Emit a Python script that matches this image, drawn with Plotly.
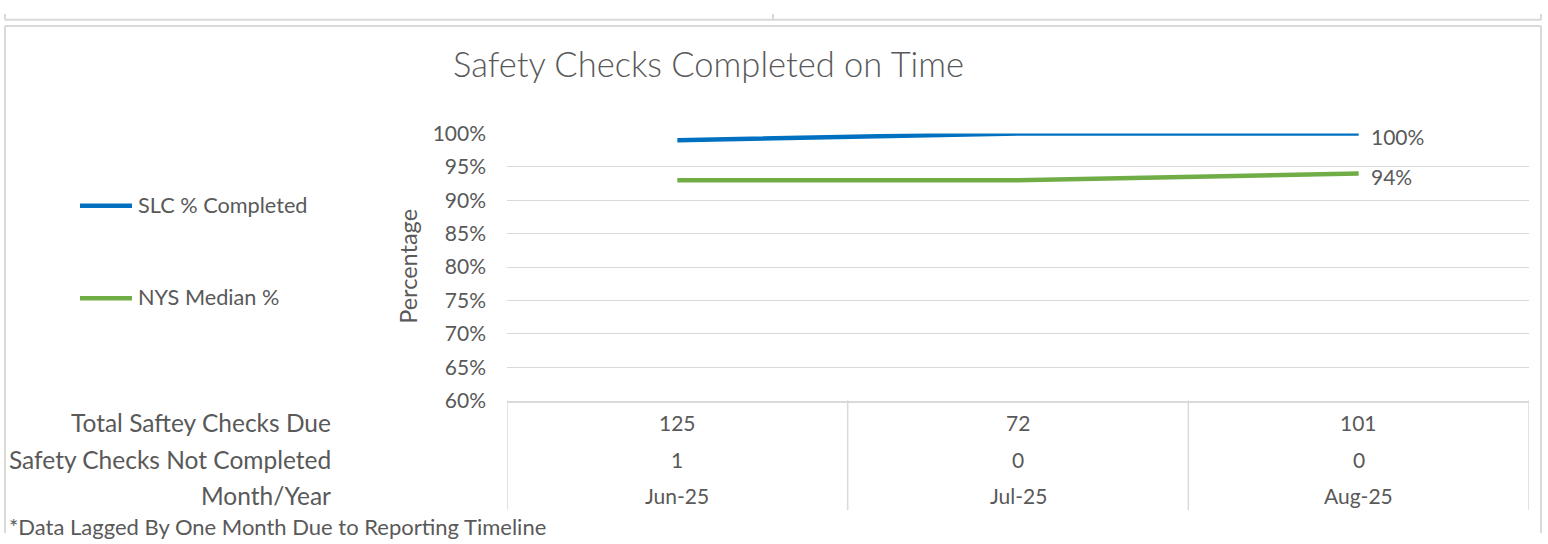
import plotly.graph_objects as go

W, H = 1548, 544

months = ["Jun-25", "Jul-25", "Aug-25"]
slc_pct = [99, 100, 100]
nys_median_pct = [93, 93, 94]
total_due = [125, 72, 101]
not_completed = [1, 0, 0]
y_ticks = [60, 65, 70, 75, 80, 85, 90, 95, 100]
row_labels = ["Total Saftey Checks Due", "Safety Checks Not Completed", "Month/Year"]
series_names = ["SLC % Completed", "NYS Median %"]
chart_title = "Safety Checks Completed on Time"
footnote = "*Data Lagged By One Month Due to Reporting Timeline"

BLUE = "#0070C0"
GREEN = "#70AD47"
TXT = "#595959"
GRID = "#D9D9D9"
FONT = "Lato"
FS = 21


def px(x):
    return x / W


def py(y):
    return 1 - y / H


fig = go.Figure()
fig.add_trace(go.Scatter(x=months, y=slc_pct, mode="lines", name=series_names[0],
                         line=dict(color=BLUE, width=4.5), showlegend=False))
fig.add_trace(go.Scatter(x=months, y=nys_median_pct, mode="lines", name=series_names[1],
                         line=dict(color=GREEN, width=4.5), showlegend=False))

ann = []
# title
ann.append(dict(x=px(708), y=py(52), xref="paper", yref="paper", text=chart_title, showarrow=False,
                xanchor="center", yanchor="middle",
                font=dict(family=FONT, size=34.5, color=TXT, weight=300)))

# data labels on last point
for vals in (slc_pct, nys_median_pct):
    ann.append(dict(x=months[-1], y=vals[-1], xref="x", yref="y", text=f"{vals[-1]}%",
                    showarrow=False, xanchor="left", yanchor="middle", xshift=10, yshift=-3,
                    font=dict(family=FONT, size=FS, color=TXT)))

# data table
row_y = [428, 467, 505]
rows = [total_due, not_completed, months]
for ry, lab, vals in zip(row_y, row_labels, rows):
    ann.append(dict(x=px(333), y=py(ry), xref="paper", yref="paper", text=lab, showarrow=False,
                    xanchor="right", yanchor="middle", font=dict(family=FONT, size=24.5, color=TXT)))
    for m, v in zip(months, vals):
        ann.append(dict(x=m, y=py(ry), xref="x", yref="paper", text=str(v), showarrow=False,
                        xanchor="center", yanchor="middle", font=dict(family=FONT, size=FS, color=TXT)))

# y-axis title
ann.append(dict(x=px(408), y=py(265), xref="paper", yref="paper", text="Percentage", textangle=-90,
                showarrow=False, xanchor="center", yanchor="middle",
                font=dict(family=FONT, size=23.5, color=TXT)))

# legend (drawn manually to match the reference layout)
legend_y = [201, 298]
colors = [BLUE, GREEN]
shapes = []
for ly, name, c in zip(legend_y, series_names, colors):
    shapes.append(dict(type="line", xref="paper", yref="paper", x0=px(80), x1=px(132),
                       y0=py(ly), y1=py(ly), line=dict(color=c, width=4.5)))
    ann.append(dict(x=px(136), y=py(ly - 1), xref="paper", yref="paper", text=name, showarrow=False,
                    xanchor="left", yanchor="middle", font=dict(family=FONT, size=21.7, color=TXT)))

# footnote
ann.append(dict(x=px(7), y=py(537), xref="paper", yref="paper", text=footnote, showarrow=False,
                xanchor="left", yanchor="middle", font=dict(family=FONT, size=22, color=TXT)))

# table vertical lines
for xv in [-0.5, 0.5, 1.5, 2.5]:
    shapes.append(dict(type="line", xref="x", yref="paper", x0=xv, x1=xv, y0=py(405), y1=py(520),
                       line=dict(color=GRID, width=1.5)))

# frames
FR = "#D9D9D9"
shapes += [
    dict(type="line", xref="paper", yref="paper", x0=px(5), x1=px(1541), y0=py(6), y1=py(6), line=dict(color=FR, width=2)),
    dict(type="line", xref="paper", yref="paper", x0=px(5), x1=px(5), y0=py(0), y1=py(6), line=dict(color=FR, width=2)),
    dict(type="line", xref="paper", yref="paper", x0=px(1541), x1=px(1541), y0=py(0), y1=py(6), line=dict(color=FR, width=2)),
    dict(type="line", xref="paper", yref="paper", x0=px(773), x1=px(773), y0=py(0), y1=py(6), line=dict(color=FR, width=2)),
    dict(type="line", xref="paper", yref="paper", x0=px(5), x1=px(1541), y0=py(12.5), y1=py(12.5), line=dict(color=FR, width=2)),
    dict(type="line", xref="paper", yref="paper", x0=px(5), x1=px(5), y0=py(12.5), y1=py(544), line=dict(color=FR, width=2)),
    dict(type="line", xref="paper", yref="paper", x0=px(1541), x1=px(1541), y0=py(12.5), y1=py(544), line=dict(color=FR, width=2)),
]

fig.update_layout(
    width=W, height=H,
    margin=dict(l=0, r=0, t=0, b=0),
    paper_bgcolor="white", plot_bgcolor="white",
    xaxis=dict(type="category", domain=[px(507), px(1529)], range=[-0.5, 2.5], showticklabels=False,
               showgrid=False, zeroline=False, showline=True, linecolor=GRID, linewidth=1.5, fixedrange=True),
    yaxis=dict(domain=[py(405.3), py(125.3)], range=[60, 100], tickvals=y_ticks,
               ticktext=[f"{v}%" for v in y_ticks], showgrid=True, gridcolor=GRID, gridwidth=1,
               zeroline=False, showline=False, ticklabelstandoff=20,
               tickfont=dict(family=FONT, size=FS, color=TXT), fixedrange=True),
    annotations=ann, shapes=shapes, showlegend=False,
)

post = (
    "var gd=document.getElementById('{plot_id}');"
    "gd.style.position='fixed';gd.style.top='0px';gd.style.left='0px';gd.style.margin='0';"
    "document.documentElement.style.margin='0';document.body.style.margin='0';"
    "document.body.style.padding='0';"
    "document.documentElement.style.overflow='hidden';document.body.style.overflow='hidden';"
)

fig.write_html("out.html", config={"displayModeBar": False}, post_script=post)
